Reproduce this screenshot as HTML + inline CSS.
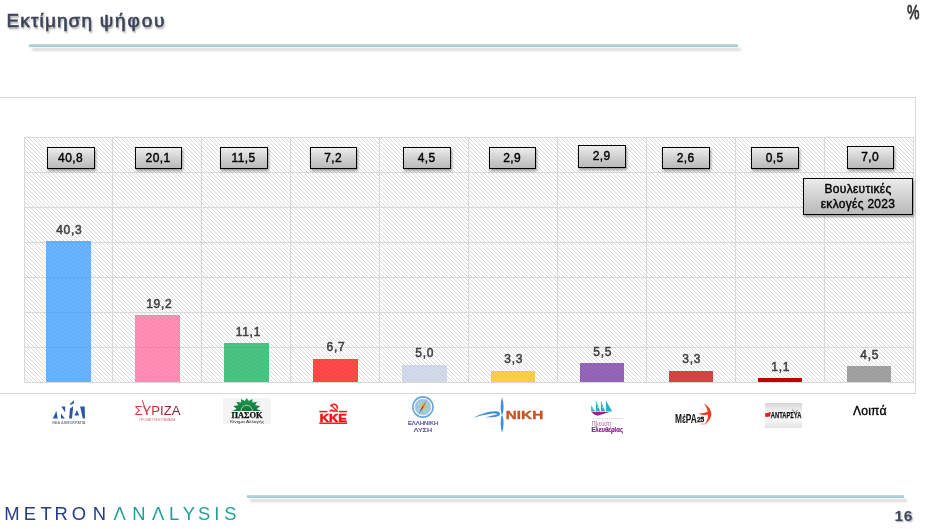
<!DOCTYPE html>
<html lang="el">
<head>
<meta charset="utf-8">
<title>Εκτίμηση ψήφου</title>
<style>
*{margin:0;padding:0;box-sizing:border-box}
html,body{width:935px;height:529px;background:#fff;overflow:hidden}
body{position:relative;font-family:"Liberation Sans",sans-serif;color:#000}
.abs{position:absolute}
#title{left:6.6px;top:8.5px;font-size:19px;line-height:24px;color:#3b4457;-webkit-text-stroke:.6px #3b4457;letter-spacing:1.1px;white-space:nowrap;text-shadow:1px 1.5px 2px rgba(0,0,0,.42)}
#title span{letter-spacing:1.85px;margin-left:.2px}
#pct{left:906.5px;top:1px;font-size:19.5px;line-height:22px;color:#2e2e2e;-webkit-text-stroke:.5px #2e2e2e;white-space:nowrap;transform:scaleX(.72);transform-origin:0 0;text-shadow:.5px .5px 1px rgba(0,0,0,.4)}
.rule{height:3px;background:linear-gradient(#c3dee4,#a2c4cc);box-shadow:3px 4px 2.5px rgba(0,0,0,.15)}
#rule1{left:29px;top:44px;width:709px}
#rule2{left:247px;top:495px;width:657px}
#frame{left:-1px;top:97px;width:917px;height:297px;border:1px solid #d9d9d9}
#plot{left:24px;top:137px;width:890px;height:246px}
.val{font-size:12px;line-height:14px;color:#404040;-webkit-text-stroke:.5px #404040;width:60px;text-align:center;white-space:nowrap;letter-spacing:.75px;text-indent:.75px}
.box{height:22px;border:1px solid #000;background:linear-gradient(#ececec,#d4d4d4 45%,#b9b9b9);box-shadow:1px 2px 2.5px rgba(0,0,0,.38);font-size:12px;line-height:20px;-webkit-text-stroke:.4px #000;text-align:center;color:#000;white-space:nowrap;letter-spacing:.4px;text-indent:-.8px}
#pg{left:894.5px;top:506.5px;font-size:15.4px;line-height:18px;font-weight:bold;letter-spacing:.6px;color:#3d4a60;text-shadow:1px 1px 1.5px rgba(0,0,0,.35)}
</style>
</head>
<body>
<div id="title" class="abs">Εκτίμηση <span>ψήφου</span></div>
<div id="pct" class="abs">%</div>
<div id="rule1" class="abs rule"></div>
<div id="frame" class="abs"></div>
<svg id="plot" class="abs" width="890" height="246" viewBox="0 0 890 246" shape-rendering="crispEdges">
<defs>
<pattern id="h" width="4" height="4" patternUnits="userSpaceOnUse">
<rect x="0" y="0" width="1" height="1" fill="#d9d9d9"/><rect x="1" y="1" width="1" height="1" fill="#d9d9d9"/><rect x="2" y="2" width="1" height="1" fill="#d9d9d9"/><rect x="3" y="3" width="1" height="1" fill="#d9d9d9"/>
</pattern>
</defs>
<rect x="0" y="0" width="890" height="246" fill="#fff"/>
<rect x="0" y="0" width="890" height="246" fill="url(#h)"/>
<g id="grid" fill="#d9d9d9">
<rect x="0" y="0" width="890" height="1"/><rect x="0" y="35" width="890" height="1"/><rect x="0" y="70" width="890" height="1"/><rect x="0" y="105" width="890" height="1"/><rect x="0" y="140" width="890" height="1"/><rect x="0" y="175" width="890" height="1"/><rect x="0" y="210" width="890" height="1"/><rect x="0" y="245" width="890" height="1"/>
<rect x="0" y="0" width="1" height="246"/><rect x="88" y="0" width="1" height="246"/><rect x="177" y="0" width="1" height="246"/><rect x="266" y="0" width="1" height="246"/><rect x="355" y="0" width="1" height="246"/><rect x="444" y="0" width="1" height="246"/><rect x="533" y="0" width="1" height="246"/><rect x="622" y="0" width="1" height="246"/><rect x="711" y="0" width="1" height="246"/><rect x="800" y="0" width="1" height="246"/><rect x="889" y="0" width="1" height="246"/>
</g>
<g id="bars" opacity=".73">
<rect x="22" y="104" width="45" height="141" fill="#3399ff"/>
<rect x="111" y="178" width="45" height="67" fill="#ff6699"/>
<rect x="200" y="206" width="45" height="39" fill="#0ab056"/>
<rect x="289" y="222" width="45" height="23" fill="#ff0808"/>
<rect x="378" y="228" width="45" height="17" fill="#c3cde6"/>
<rect x="467" y="234" width="44" height="11" fill="#ffc000"/>
<rect x="556" y="226" width="44" height="19" fill="#7030a0"/>
<rect x="645" y="234" width="44" height="11" fill="#cc0000"/>
<rect x="823" y="229" width="44" height="16" fill="#808080"/>
</g>
<rect x="734" y="241" width="44" height="4" fill="#c00000"/>
</svg>

<div class="abs val" style="left:39px;top:223px">40,3</div>
<div class="abs val" style="left:129px;top:297px">19,2</div>
<div class="abs val" style="left:218px;top:325px">11,1</div>
<div class="abs val" style="left:305.6px;top:340px">6,7</div>
<div class="abs val" style="left:394.4px;top:346px">5,0</div>
<div class="abs val" style="left:483.3px;top:352px">3,3</div>
<div class="abs val" style="left:572.4px;top:345px">5,5</div>
<div class="abs val" style="left:661.3px;top:352px">3,3</div>
<div class="abs val" style="left:750.3px;top:360px">1,1</div>
<div class="abs val" style="left:839.3px;top:348px">4,5</div>

<div class="abs box" style="left:47px;top:147px;width:48px">40,8</div>
<div class="abs box" style="left:135px;top:147px;width:47px">20,1</div>
<div class="abs box" style="left:220px;top:147px;width:48px">11,5</div>
<div class="abs box" style="left:310px;top:147px;width:47px">7,2</div>
<div class="abs box" style="left:403px;top:147px;width:48px">4,5</div>
<div class="abs box" style="left:489px;top:147px;width:47px">2,9</div>
<div class="abs box" style="left:578px;top:145px;width:48px;height:23px">2,9</div>
<div class="abs box" style="left:662px;top:147px;width:48px">2,6</div>
<div class="abs box" style="left:751px;top:147px;width:48px">0,5</div>
<div class="abs box" style="left:847px;top:146px;width:47px;height:23px">7,0</div>
<div class="abs box" style="left:803px;top:178px;width:110px;height:37px;line-height:15px;padding-top:3px;white-space:normal;letter-spacing:.3px;text-indent:0">Βουλευτικές<br>εκλογές 2023</div>

<svg id="logos" class="abs" style="left:0;top:395px" width="935" height="45" viewBox="0 395 935 45">
<defs>
<linearGradient id="gsy" x1="0" x2="1" y1="0" y2="0"><stop offset="0" stop-color="#e5393f"/><stop offset=".5" stop-color="#c22a37"/><stop offset="1" stop-color="#8b1a2b"/></linearGradient>
<linearGradient id="gsun" x1="0" x2="0" y1="0" y2="1"><stop offset="0" stop-color="#1f9a4f"/><stop offset="1" stop-color="#0c7a3a"/></linearGradient>
<linearGradient id="gan" x1="0" x2="0" y1="0" y2="1"><stop offset="0" stop-color="#d7d3d3"/><stop offset=".45" stop-color="#fbfbfb"/><stop offset=".7" stop-color="#f6f6f6"/><stop offset="1" stop-color="#e2e2e2"/></linearGradient>
<radialGradient id="gco" cx=".5" cy=".5" r=".5"><stop offset="0" stop-color="#b9e0f7"/><stop offset="1" stop-color="#8cc4ec"/></radialGradient>
</defs>
<g id="lg-nd" fill="#2b57a7">
<polygon points="52.8,418.4 56.4,410.8 57.7,418.4"/>
<polygon points="61.0,413.6 64.8,418.4 61.0,418.4"/>
<polygon points="61.3,406.4 65.2,406.4 65.2,412.5"/>
<polygon points="69.1,418.4 70.0,408.5 73.2,406.2 72.0,418.4"/>
<polygon points="69.4,404.5 74.0,400.2 73.8,403.5 70.8,404.7"/>
<polygon points="74.5,415.4 76.9,410.1 79.2,415.4"/>
<polygon points="80.1,406.4 84.7,406.4 85.0,418.4 82.8,418.4"/>
<text x="52.3" y="423.9" font-family="'Liberation Sans',sans-serif" font-weight="bold" font-size="3" textLength="33.2" lengthAdjust="spacingAndGlyphs" fill="#6a7fa3">ΝΕΑ ΔΗΜΟΚΡΑΤΙΑ</text>
</g>
<g id="lg-syriza" font-family="'Liberation Sans',sans-serif">
<text x="134.4" y="414.7" font-size="13.2" textLength="46" lengthAdjust="spacingAndGlyphs" fill="url(#gsy)">ΣΥΡΙΖΑ</text>
<path d="M142.3,400.2 L147.2,414.8" stroke="#d93540" stroke-width="1" fill="none"/>
<text x="139.6" y="420.6" font-size="2.7" textLength="35.5" lengthAdjust="spacingAndGlyphs" fill="#d0606e">ΠΡΟΟΔΕΥΤΙΚΗ ΣΥΜΜΑΧΙΑ</text>
</g>
<g id="lg-pasok">
<rect x="223" y="398" width="48" height="26" fill="#f4f4f4"/>
<polygon points="232.1,410.9 236.7,408.9 233.2,406.0 238.2,405.2 236.4,401.8 241.0,402.4 241.1,399.0 244.7,400.9 246.7,398.0 248.7,400.9 252.3,399.0 252.4,402.4 257.0,401.8 255.2,405.2 260.2,406.0 256.7,408.9 261.3,410.9" fill="url(#gsun)"/>
<path d="M241,410.9 A5.7,5.7 0 0 1 252.4,410.9" fill="none" stroke="#e8f5ec" stroke-width=".7"/>
<text x="231.5" y="417.8" font-family="'Liberation Serif',serif" font-weight="bold" font-size="8.3" textLength="31" lengthAdjust="spacingAndGlyphs" fill="#111" stroke="#111" stroke-width=".25">ΠΑΣΟΚ</text>
<text x="230" y="423.3" font-family="'Liberation Sans',sans-serif" font-size="4.4" textLength="34" lengthAdjust="spacingAndGlyphs" fill="#262626">Κίνημα Αλλαγής</text>
</g>
<g id="lg-kke" fill="#fa0d12" stroke="#fa0d12" stroke-width=".25">
<rect x="319.7" y="411" width="7.6" height="1.1"/>
<rect x="339.2" y="411" width="7.8" height="1.1"/>
<rect x="319.7" y="422.7" width="27.3" height="1.2"/>
<text x="319.8" y="421.8" font-family="'Liberation Sans',sans-serif" font-weight="bold" font-size="11.6" textLength="27.1" lengthAdjust="spacingAndGlyphs" stroke="#fa0d12" stroke-width=".55">ΚΚΕ</text>
<path d="M333.2,403.4 C337.6,403.2 339.4,407.6 336.6,410.2 C337.4,407.6 336.2,405 333.2,404.6 Z"/>
<path d="M330.2,405.2 L332.4,403.8 L333.3,405 L332.3,405.7 L338.4,411.6 L337.5,412.3 L331.5,406.3 L330.9,406.7 Z"/>
<path d="M329.2,411.3 L331.2,409.2 L333.6,410.6 L336.4,410.3 L336.8,411.3 L333.4,411.9 L331.3,410.8 L330,412 Z"/>
</g>
<g id="lg-lysi">
<circle cx="422.9" cy="407" r="10.1" fill="#fff" stroke="#69a6df" stroke-width="1.6"/>
<circle cx="422.9" cy="407" r="8" fill="url(#gco)" stroke="#dccf9e" stroke-width=".8"/>
<polygon points="422.9,401.2 423.6,405.4 425.9,404.0 424.5,406.3 428.7,407.0 424.5,407.7 425.9,410.0 423.6,408.6 422.9,412.8 422.2,408.6 419.9,410.0 421.3,407.7 417.1,407.0 421.3,406.3 419.9,404.0 422.2,405.4" fill="#ecc23c" stroke="#c99a25" stroke-width=".25"/>
<path d="M427.1,399.4 L423.4,407.3 L422.4,406.7 Z" fill="#e02a2a"/>
<path d="M418.4,414.6 L422.4,406.7 L423.4,407.3 Z" fill="#2b2a7e"/>
<text x="423.1" y="425.3" text-anchor="middle" font-family="'Liberation Sans',sans-serif" font-size="5.4" textLength="30.4" lengthAdjust="spacingAndGlyphs" fill="#3b2f8c" stroke="#3b2f8c" stroke-width=".12">ΕΛΛΗΝΙΚΗ</text>
<text x="422.9" y="431.6" text-anchor="middle" font-family="'Liberation Sans',sans-serif" font-size="5.4" textLength="18.4" lengthAdjust="spacingAndGlyphs" fill="#3b2f8c" stroke="#3b2f8c" stroke-width=".12">ΛΥΣΗ</text>
</g>
<g id="lg-niki">
<path d="M502.1,397.3 C503.9,403 504,409.6 502.6,414.6 L501.6,414.6 C500.2,409.6 500.3,403 502.1,397.3 Z" fill="#3f8fd8"/>
<path d="M502.1,432.7 C503.9,427 504,420.4 502.6,415.4 L501.6,415.4 C500.2,420.4 500.3,427 502.1,432.7 Z" fill="#3f8fd8"/>
<path d="M472.6,417.8 C480,414.6 489,410.6 496.5,411.3 C500.6,411.8 501.4,415.3 498,416.3 C494,417.5 489,417 485.6,417.7 C489.6,415.9 495.4,415.4 497.6,414.1 C495.6,412.3 485.6,414.2 472.6,417.8 Z" fill="#3f8fd8"/>
<text x="505.8" y="418.8" font-family="'Liberation Sans',sans-serif" font-weight="bold" font-size="11.4" textLength="37.4" lengthAdjust="spacingAndGlyphs" fill="#c8521f" stroke="#c8521f" stroke-width=".3">ΝΙΚΗ</text>
</g>
<g id="lg-plefsi">
<g fill="#22b3c4">
<polygon points="591.2,405.4 591.2,411.6 595.4,411.6"/>
<polygon points="595.9,400.6 595.9,411.6 600.2,411.6"/>
<polygon points="600.9,400.6 600.9,411.6 605.2,411.6"/>
<polygon points="605.9,400.6 605.9,411.6 612.3,411.6"/>
</g>
<g fill="#fff" opacity=".85"><rect x="596.6" y="403.6" width="1" height=".9"/><rect x="601.6" y="403.6" width="1" height=".9"/><rect x="597.2" y="407.2" width="1.1" height=".9"/><rect x="602.2" y="407.2" width="1.1" height=".9"/><rect x="592.4" y="408.6" width="1" height=".9"/></g>
<polygon points="591.5,412.1 609.6,412.1 597.6,415.7 594.2,414.6" fill="#a01f90"/>
<rect x="591.5" y="418.3" width="31.5" height=".5" fill="#c8c8c8"/>
<text x="591.4" y="425.9" font-family="'Liberation Sans',sans-serif" font-size="6.4" textLength="19.8" lengthAdjust="spacingAndGlyphs" fill="#b862ad">Πλεύση</text>
<text x="591.4" y="431.9" font-family="'Liberation Sans',sans-serif" font-weight="bold" font-size="6.6" textLength="31.6" lengthAdjust="spacingAndGlyphs" fill="#8b1d87" stroke="#8b1d87" stroke-width=".2">Ελευθερίας</text>
</g>
<g id="lg-mera">
<path d="M703.8,403.4 C708.6,406 711.8,410.6 711.3,414.6 C710.6,419.2 707.6,423 704.6,424.7 C707,421.2 708.4,417.6 708,414.8 C705,415.2 701,414.8 698.4,413.7 C702.4,413.4 706.2,412.8 707.8,411.6 C707.2,408.4 705.6,405.6 703.8,403.4 Z" fill="#f03a1f"/>
<rect x="700.5" y="423.6" width="5" height=".8" fill="#e8604a" opacity=".7"/>
<text x="675" y="422.9" font-family="'Liberation Sans',sans-serif" font-weight="bold" font-size="12" textLength="21.8" lengthAdjust="spacingAndGlyphs" fill="#111">ΜέΡΑ</text>
<text x="696.9" y="422" font-family="'Liberation Sans',sans-serif" font-weight="bold" font-size="7.6" textLength="7.4" lengthAdjust="spacingAndGlyphs" fill="#111" stroke="#111" stroke-width=".3">25</text>
</g>
<g id="lg-antarsya">
<rect x="765" y="403" width="37" height="25" fill="url(#gan)"/>
<path d="M792.3,409.4 L794.1,411.9 M797.4,410.2 L795.5,412.2" stroke="#222" stroke-width=".6" fill="none"/>
<polygon points="765,413.4 770.9,412 770,416.4 765.4,416.9" fill="#e01f1f"/>
<text x="770.8" y="417.8" font-family="'Liberation Sans',sans-serif" font-weight="bold" font-size="9.6" textLength="30.6" lengthAdjust="spacingAndGlyphs" fill="#111" stroke="#111" stroke-width=".25">ΑΝΤΑΡΣΥΑ</text>
</g>
</svg>
<div class="abs" id="lbl10" style="left:853px;top:404.4px;font-size:12.2px;line-height:14px;-webkit-text-stroke:.35px #000;letter-spacing:.15px;white-space:nowrap">Λοιπά</div>

<svg id="brand" class="abs" style="left:0;top:498px" width="245" height="31" viewBox="0 498 245 31">
<text y="519.8" font-family="'Liberation Sans',sans-serif" font-size="18.4" fill="#263c8c"><tspan x="4.2 23.7 40.6 54.5 71.7 92.8">METRON</tspan><tspan x="113.6 132.3 151.9 169.1 182.8 198.1 214.3 224.2" fill="#1fa295">ANALYSIS</tspan></text>
<polygon points="116.66,516.75 122.84,516.75 121.98,514.50 117.54,514.50" fill="#fff"/>
<polygon points="154.96,516.75 161.14,516.75 160.28,514.50 155.84,514.50" fill="#fff"/>
</svg>
<div id="rule2" class="abs rule"></div>
<div id="pg" class="abs">16</div>
</body>
</html>
